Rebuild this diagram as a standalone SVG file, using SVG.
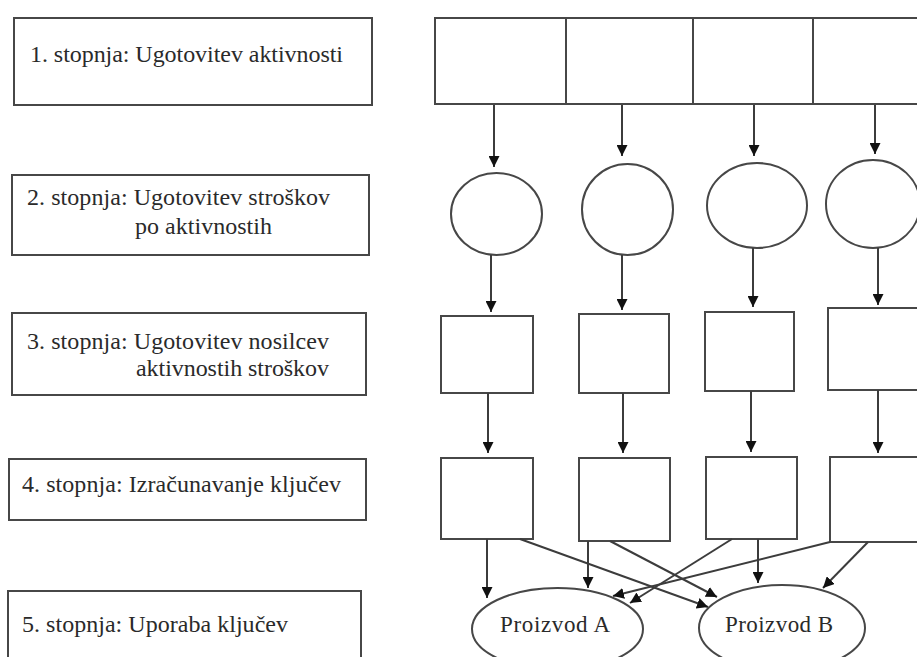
<svg xmlns="http://www.w3.org/2000/svg" width="917" height="657" viewBox="0 0 917 657">
  <style>
    .box { fill: #ffffff; stroke: #474747; stroke-width: 2; }
    .lbl { font-family: "Liberation Serif", "Times New Roman", serif; font-size: 24px; fill: #2a2a2a; }
    .prod { font-family: "Liberation Serif", "Times New Roman", serif; font-size: 23px; fill: #2a2a2a; }
    .conn { fill: none; stroke: #3c3c3c; stroke-width: 2; marker-end: url(#arrow); }
    .div { stroke: #474747; stroke-width: 2; }
  </style>
  <defs>
    <marker id="arrow" viewBox="0 0 10 10" markerUnits="userSpaceOnUse" markerWidth="11" markerHeight="11" refX="10" refY="5" orient="auto">
      <path d="M0,0 L10,5 L0,10 z" fill="#111111"/>
    </marker>
  </defs>
  <rect width="917" height="657" fill="#ffffff"/>

  <!-- stage labels -->
  <g id="stage1">
    <rect class="box" x="14" y="18" width="358" height="87"/>
    <text class="lbl" x="30" y="62" textLength="313" lengthAdjust="spacing">1. stopnja: Ugotovitev aktivnosti</text>
  </g>
  <g id="stage2">
    <rect class="box" x="12" y="175" width="357" height="80"/>
    <text class="lbl" x="27" y="205" textLength="303" lengthAdjust="spacing">2. stopnja: Ugotovitev stroškov</text>
    <text class="lbl" x="135" y="234" textLength="137" lengthAdjust="spacing">po aktivnostih</text>
  </g>
  <g id="stage3">
    <rect class="box" x="12" y="313" width="354" height="82"/>
    <text class="lbl" x="27" y="349" textLength="302" lengthAdjust="spacing">3. stopnja: Ugotovitev nosilcev</text>
    <text class="lbl" x="136" y="376" textLength="193" lengthAdjust="spacing">aktivnostih stroškov</text>
  </g>
  <g id="stage4">
    <rect class="box" x="9" y="459" width="357" height="61"/>
    <text class="lbl" x="22" y="492" textLength="319" lengthAdjust="spacing">4. stopnja: Izračunavanje ključev</text>
  </g>
  <g id="stage5">
    <rect class="box" x="8" y="591" width="353" height="90"/>
    <text class="lbl" x="22" y="632" textLength="266" lengthAdjust="spacing">5. stopnja: Uporaba ključev</text>
  </g>

  <!-- activities row -->
  <g id="activities">
    <rect class="box" x="435" y="18" width="500" height="86"/>
    <line class="div" x1="566" y1="18" x2="566" y2="104"/>
    <line class="div" x1="693" y1="18" x2="693" y2="104"/>
    <line class="div" x1="813" y1="18" x2="813" y2="104"/>
  </g>

  <!-- cost pools -->
  <g id="pool1"><ellipse class="box" cx="496.5" cy="214" rx="45.5" ry="41"/></g>
  <g id="pool2"><ellipse class="box" cx="627.5" cy="209.5" rx="45.5" ry="45.5"/></g>
  <g id="pool3"><ellipse class="box" cx="757" cy="205.5" rx="50" ry="42.5"/></g>
  <g id="pool4"><ellipse class="box" cx="873" cy="204" rx="47" ry="44"/></g>

  <!-- cost drivers -->
  <g id="driver1"><rect class="box" x="441" y="316" width="92" height="77"/></g>
  <g id="driver2"><rect class="box" x="579" y="314" width="90" height="79"/></g>
  <g id="driver3"><rect class="box" x="705" y="312" width="89" height="79"/></g>
  <g id="driver4"><rect class="box" x="828" y="308" width="110" height="82"/></g>

  <!-- keys -->
  <g id="key1"><rect class="box" x="441" y="458" width="92" height="81"/></g>
  <g id="key2"><rect class="box" x="579" y="458" width="91" height="83"/></g>
  <g id="key3"><rect class="box" x="706" y="457" width="91" height="82"/></g>
  <g id="key4"><rect class="box" x="830" y="457" width="110" height="85"/></g>

  <!-- products -->
  <g id="productA">
    <ellipse class="box" cx="557.5" cy="629" rx="85.5" ry="41"/>
    <text class="prod" x="500" y="632" textLength="110" lengthAdjust="spacing">Proizvod A</text>
  </g>
  <g id="productB">
    <ellipse class="box" cx="782" cy="628" rx="83" ry="43"/>
    <text class="prod" x="725" y="632" textLength="108" lengthAdjust="spacing">Proizvod B</text>
  </g>

  <!-- connectors -->
  <g id="connectors">
    <line class="conn" x1="494" y1="105" x2="494" y2="167"/>
    <line class="conn" x1="622" y1="105" x2="622" y2="156"/>
    <line class="conn" x1="754" y1="105" x2="754" y2="156"/>
    <line class="conn" x1="875" y1="105" x2="875" y2="154"/>

    <line class="conn" x1="491" y1="255" x2="491" y2="312"/>
    <line class="conn" x1="622" y1="255" x2="622" y2="310"/>
    <line class="conn" x1="753" y1="248" x2="753" y2="307"/>
    <line class="conn" x1="878" y1="248" x2="878" y2="305"/>

    <line class="conn" x1="488" y1="393" x2="488" y2="453"/>
    <line class="conn" x1="623" y1="393" x2="623" y2="453"/>
    <line class="conn" x1="751" y1="391" x2="751" y2="452"/>
    <line class="conn" x1="878" y1="390" x2="878" y2="453"/>

    <line class="conn" x1="487" y1="539" x2="487" y2="598"/>
    <line class="conn" x1="520" y1="539" x2="708" y2="607"/>
    <line class="conn" x1="588" y1="541" x2="588" y2="588"/>
    <line class="conn" x1="610" y1="541" x2="717" y2="597"/>
    <line class="conn" x1="732" y1="539" x2="630" y2="603"/>
    <line class="conn" x1="758" y1="539" x2="758" y2="583"/>
    <line class="conn" x1="830" y1="542" x2="613" y2="596"/>
    <line class="conn" x1="868" y1="542" x2="823" y2="588"/>
  </g>
</svg>
